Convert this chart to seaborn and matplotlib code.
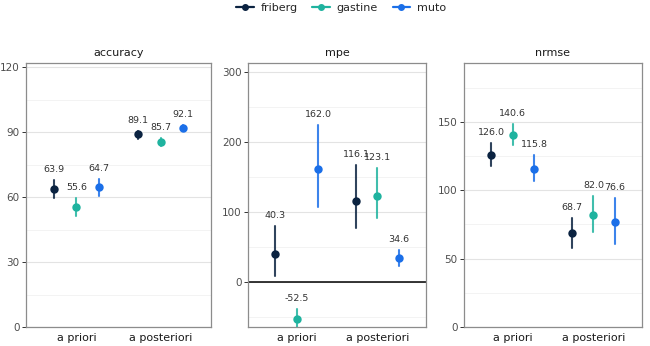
import matplotlib
matplotlib.use("Agg")
import matplotlib.pyplot as plt
from matplotlib.lines import Line2D
from matplotlib.ticker import MultipleLocator
import pandas as pd
import seaborn as sns

metrics = ["accuracy", "mpe", "nrmse"]
phases = ["a priori", "a posteriori"]
models = ["friberg", "gastine", "muto"]
palette = ["#0b2341", "#1fb39f", "#1b6fe8"]

# values ordered as (a priori: friberg, gastine, muto), (a posteriori: friberg, gastine, muto)
accuracy_est = [63.9, 55.6, 64.7, 89.1, 85.7, 92.1]
accuracy_lo = [59.7, 51.2, 60.4, 87.0, 83.5, 91.0]
accuracy_hi = [67.8, 59.7, 68.5, 90.6, 87.4, 93.2]

mpe_est = [40.3, -52.5, 162.0, 116.1, 123.1, 34.6]
mpe_lo = [8.6, -70.0, 107.8, 78.0, 91.6, 23.8]
mpe_hi = [80.1, -37.7, 225.0, 167.0, 162.6, 45.8]

nrmse_est = [126.0, 140.6, 115.8, 68.7, 82.0, 76.6]
nrmse_lo = [117.6, 132.7, 107.1, 57.6, 69.5, 61.0]
nrmse_hi = [134.4, 148.3, 126.1, 79.8, 95.9, 94.1]

series = {
    "accuracy": (accuracy_est, accuracy_lo, accuracy_hi),
    "mpe": (mpe_est, mpe_lo, mpe_hi),
    "nrmse": (nrmse_est, nrmse_lo, nrmse_hi),
}
ylims = {"accuracy": (0, 122), "mpe": (-64, 313), "nrmse": (0, 193)}
major = {"accuracy": 30, "mpe": 100, "nrmse": 50}

# long table: each group gets lo / estimate / hi so median + full interval reproduce it
rows = []
for metric in metrics:
    est, lo, hi = series[metric]
    i = 0
    for phase in phases:
        for model in models:
            for v in (lo[i], est[i], hi[i]):
                rows.append({"metric": metric, "phase": phase, "model": model, "value": v})
            i += 1
df = pd.DataFrame(rows)

sns.set_style("white")
plt.rcParams["font.family"] = ["DejaVu Sans"]

fig = plt.figure(figsize=(6.5, 3.46), dpi=100)
boxes = [
    [26 / 650, 19 / 346, 185 / 650, 264 / 346],
    [248 / 650, 19 / 346, 178 / 650, 264 / 346],
    [464 / 650, 19 / 346, 178 / 650, 264 / 346],
]
dodge = 0.53

for metric, box in zip(metrics, boxes):
    ax = fig.add_axes(box)
    sub = df[df["metric"] == metric]
    sns.pointplot(
        data=sub, x="phase", y="value", hue="model",
        order=phases, hue_order=models, palette=palette,
        estimator="median", errorbar=("pi", 100),
        dodge=dodge, linestyle="none", marker="o", markersize=4,
        err_kws={"linewidth": 1.5, "alpha": 0.85},
        legend=False, ax=ax,
    )
    est, lo, hi = series[metric]
    i = 0
    for p, phase in enumerate(phases):
        for m, model in enumerate(models):
            x = p + (m - 1) * dodge / 2
            ax.annotate(f"{est[i]:.1f}", (x, hi[i]), xytext=(0, 7.5),
                        textcoords="offset points", ha="center", va="center",
                        fontsize=6.8, color="#333333")
            i += 1
    if metric == "mpe":
        ax.axhline(0, color="black", linewidth=1.1, zorder=1)

    ax.set_xlim(-0.6, 1.6)
    ax.set_ylim(*ylims[metric])
    ax.yaxis.set_major_locator(MultipleLocator(major[metric]))
    ax.yaxis.set_minor_locator(MultipleLocator(major[metric] / 2))
    ax.grid(which="major", axis="y", color="#e3e3e3", linewidth=0.8)
    ax.grid(which="minor", axis="y", color="#f1f1f1", linewidth=0.6)
    ax.grid(which="both", axis="x", visible=False)
    ax.set_axisbelow(True)
    for s in ax.spines.values():
        s.set_color("#8c8c8c")
        s.set_linewidth(0.9)
    ax.tick_params(axis="y", which="major", length=3, width=0.7, color="#333333",
                   labelsize=7.5, labelcolor="#4d4d4d", pad=1.5, left=True)
    ax.tick_params(axis="y", which="minor", length=0)
    ax.tick_params(axis="x", length=0, labelsize=8, labelcolor="#1a1a1a", pad=4)
    ax.set_xlabel("")
    ax.set_ylabel("")
    ax.set_title(metric, fontsize=8, color="#1a1a1a", pad=5)

handles = [Line2D([], [], color=c, marker="o", markersize=4, linewidth=1.6) for c in palette]
fig.legend(handles, models, loc="upper center", bbox_to_anchor=(0.525, 1.02), ncol=3,
           frameon=False, fontsize=8, handlelength=1.6, columnspacing=1.3, handletextpad=0.6)

fig.savefig("out.png", dpi=100)
